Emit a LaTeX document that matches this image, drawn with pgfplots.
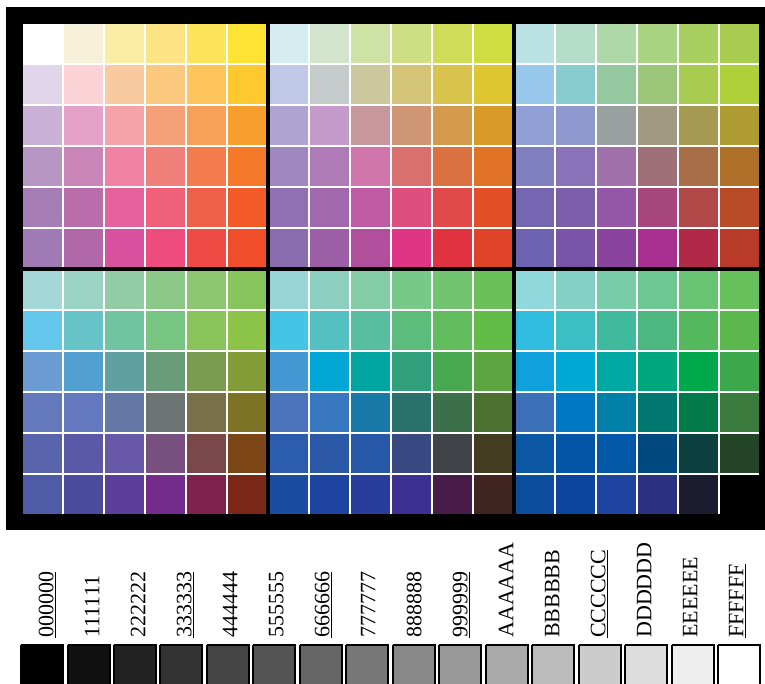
\documentclass[border=0pt]{standalone}
\usepackage{pgfplots}
\pgfplotsset{compat=1.18}
\usepackage{fontspec}
\setmainfont{Liberation Serif}
\makeatletter
\@for\cc:=FFFFFF,F6F0D8,FCEDA5,FCE485,FDE35A,FEE335,D5ECF0,D2E5CC,CFE2A6,CEDE82,CEDC58,CEDE40,BAE2E4,B5DCC8,AED8A8,A8D482,A8D060,A8CC50,%
E0D5EA,FBD2D6,F9C9A0,FBC97D,FCC45A,FEC82F,BFC8E6,C5CBCB,CBC89E,D4C477,D8C34D,DDC632,98C8EC,88CCD0,94C89E,9CC67A,B0D03A,%
C8B0D6,E5A2C8,F5A3A8,F6A079,F7A05A,F79E2D,AFA3D2,C39ACA,C8969D,CF9676,D49A4E,DA9A2A,90A0D6,9098D0,98A0A0,A09A80,A69A52,AE9C30,%
B896C4,C985B8,F282A4,F07F7A,F37C4E,F47A2A,A087C0,AE7BB7,D076AC,D8706F,DB7140,E07325,8080C0,8A72B8,A070AA,A07078,A86E48,AE7028,%
A67DB5,B96DAB,E5629F,F06078,F05F48,F25A28,9070B3,A068AD,C05AA2,DE4E7E,E04A48,E04F25,7466B0,7C5EAA,9456A6,A8467E,B04848,B84A28,%
A07AB5,B068A8,D8519F,EE4B7E,EF4B45,F04E2A,8A6BAE,9C5EA6,B24F9C,E03484,E0323F,E04428,6C62B0,7A54A6,8A449E,A83090,B02A48,B83A28,%
A4D8D8,9CD4C4,92CCA4,8CC888,8CC670,88C45C,98D4D6,8CCFBE,84CCA4,78C88A,72C470,6CC05A,90D8DC,84D0C4,78CCA8,6CC890,68C470,68C05C,%
64C6EA,66C4C8,70C4A0,78C482,88C45A,8CC448,44C4E6,54C0C2,58BEA0,5CBC7C,60BC5C,62BC48,30BDE0,3CBFC4,40BA9C,4CB880,54B85C,5CB84C,%
6C9CD4,52A0D0,60A0A0,689C78,7A9C50,849C38,4498D4,00A6D4,00A4A0,30A07C,48A850,5CA440,10A0DC,00A8D4,00A8A4,00A67C,00A84C,3CA84C,%
6478BC,6478C0,6478A8,6C7474,787048,7E7224,4C74BC,3878C0,1878A8,2A706C,3C7048,4C7030,3C70B8,0078C4,0080A8,007870,007A48,3A7A3C,%
5864AC,5C58A8,6858A8,785080,7A4848,7C4616,2C5CAC,2C58A8,2858A8,384880,404448,443C20,0C58A4,0454A8,0458A8,004880,0C4040,244428,%
4E5CA8,4C4C9E,5A3E9A,742C8C,80204C,7C2818,1C4CA0,1C44A0,283C9C,3C3090,481C48,402420,0C4C9C,0C44A0,2C3080,1C1C30,000000,%
111111,222222,333333,444444,555555,666666,777777,888888,999999,AAAAAA,BBBBBB,CCCCCC,DDDDDD,EEEEEE%
\do{\edef\tmp{\noexpand\definecolor{h\cc}{HTML}{\cc}}\tmp}
\makeatother
\begin{document}
\begin{tikzpicture}
\begin{axis}[x=0.75pt, y=0.75pt, y dir=reverse,
  xmin=0, xmax=765, ymin=0, ymax=683,
  hide axis, no markers, clip=true]
\fill[white] (axis cs:0,0) rectangle (axis cs:765,683);
\fill[black] (axis cs:6,7) rectangle (axis cs:765,530);
\addplot[matrix plot*, mesh/color input=explicit, point meta=explicit symbolic, mesh/cols=18]
 table[x expr={42.5+41*\thisrow{i}}, y expr={43.5+41*\thisrow{j}}, meta=c] {
i j c
0 0 color=hFFFFFF
1 0 color=hF6F0D8
2 0 color=hFCEDA5
3 0 color=hFCE485
4 0 color=hFDE35A
5 0 color=hFEE335
6 0 color=hD5ECF0
7 0 color=hD2E5CC
8 0 color=hCFE2A6
9 0 color=hCEDE82
10 0 color=hCEDC58
11 0 color=hCEDE40
12 0 color=hBAE2E4
13 0 color=hB5DCC8
14 0 color=hAED8A8
15 0 color=hA8D482
16 0 color=hA8D060
17 0 color=hA8CC50
0 1 color=hE0D5EA
1 1 color=hFBD2D6
2 1 color=hF9C9A0
3 1 color=hFBC97D
4 1 color=hFCC45A
5 1 color=hFEC82F
6 1 color=hBFC8E6
7 1 color=hC5CBCB
8 1 color=hCBC89E
9 1 color=hD4C477
10 1 color=hD8C34D
11 1 color=hDDC632
12 1 color=h98C8EC
13 1 color=h88CCD0
14 1 color=h94C89E
15 1 color=h9CC67A
16 1 color=hA8CC50
17 1 color=hB0D03A
0 2 color=hC8B0D6
1 2 color=hE5A2C8
2 2 color=hF5A3A8
3 2 color=hF6A079
4 2 color=hF7A05A
5 2 color=hF79E2D
6 2 color=hAFA3D2
7 2 color=hC39ACA
8 2 color=hC8969D
9 2 color=hCF9676
10 2 color=hD49A4E
11 2 color=hDA9A2A
12 2 color=h90A0D6
13 2 color=h9098D0
14 2 color=h98A0A0
15 2 color=hA09A80
16 2 color=hA69A52
17 2 color=hAE9C30
0 3 color=hB896C4
1 3 color=hC985B8
2 3 color=hF282A4
3 3 color=hF07F7A
4 3 color=hF37C4E
5 3 color=hF47A2A
6 3 color=hA087C0
7 3 color=hAE7BB7
8 3 color=hD076AC
9 3 color=hD8706F
10 3 color=hDB7140
11 3 color=hE07325
12 3 color=h8080C0
13 3 color=h8A72B8
14 3 color=hA070AA
15 3 color=hA07078
16 3 color=hA86E48
17 3 color=hAE7028
0 4 color=hA67DB5
1 4 color=hB96DAB
2 4 color=hE5629F
3 4 color=hF06078
4 4 color=hF05F48
5 4 color=hF25A28
6 4 color=h9070B3
7 4 color=hA068AD
8 4 color=hC05AA2
9 4 color=hDE4E7E
10 4 color=hE04A48
11 4 color=hE04F25
12 4 color=h7466B0
13 4 color=h7C5EAA
14 4 color=h9456A6
15 4 color=hA8467E
16 4 color=hB04848
17 4 color=hB84A28
0 5 color=hA07AB5
1 5 color=hB068A8
2 5 color=hD8519F
3 5 color=hEE4B7E
4 5 color=hEF4B45
5 5 color=hF04E2A
6 5 color=h8A6BAE
7 5 color=h9C5EA6
8 5 color=hB24F9C
9 5 color=hE03484
10 5 color=hE0323F
11 5 color=hE04428
12 5 color=h6C62B0
13 5 color=h7A54A6
14 5 color=h8A449E
15 5 color=hA83090
16 5 color=hB02A48
17 5 color=hB83A28
0 6 color=hA4D8D8
1 6 color=h9CD4C4
2 6 color=h92CCA4
3 6 color=h8CC888
4 6 color=h8CC670
5 6 color=h88C45C
6 6 color=h98D4D6
7 6 color=h8CCFBE
8 6 color=h84CCA4
9 6 color=h78C88A
10 6 color=h72C470
11 6 color=h6CC05A
12 6 color=h90D8DC
13 6 color=h84D0C4
14 6 color=h78CCA8
15 6 color=h6CC890
16 6 color=h68C470
17 6 color=h68C05C
0 7 color=h64C6EA
1 7 color=h66C4C8
2 7 color=h70C4A0
3 7 color=h78C482
4 7 color=h88C45A
5 7 color=h8CC448
6 7 color=h44C4E6
7 7 color=h54C0C2
8 7 color=h58BEA0
9 7 color=h5CBC7C
10 7 color=h60BC5C
11 7 color=h62BC48
12 7 color=h30BDE0
13 7 color=h3CBFC4
14 7 color=h40BA9C
15 7 color=h4CB880
16 7 color=h54B85C
17 7 color=h5CB84C
0 8 color=h6C9CD4
1 8 color=h52A0D0
2 8 color=h60A0A0
3 8 color=h689C78
4 8 color=h7A9C50
5 8 color=h849C38
6 8 color=h4498D4
7 8 color=h00A6D4
8 8 color=h00A4A0
9 8 color=h30A07C
10 8 color=h48A850
11 8 color=h5CA440
12 8 color=h10A0DC
13 8 color=h00A8D4
14 8 color=h00A8A4
15 8 color=h00A67C
16 8 color=h00A84C
17 8 color=h3CA84C
0 9 color=h6478BC
1 9 color=h6478C0
2 9 color=h6478A8
3 9 color=h6C7474
4 9 color=h787048
5 9 color=h7E7224
6 9 color=h4C74BC
7 9 color=h3878C0
8 9 color=h1878A8
9 9 color=h2A706C
10 9 color=h3C7048
11 9 color=h4C7030
12 9 color=h3C70B8
13 9 color=h0078C4
14 9 color=h0080A8
15 9 color=h007870
16 9 color=h007A48
17 9 color=h3A7A3C
0 10 color=h5864AC
1 10 color=h5C58A8
2 10 color=h6858A8
3 10 color=h785080
4 10 color=h7A4848
5 10 color=h7C4616
6 10 color=h2C5CAC
7 10 color=h2C58A8
8 10 color=h2858A8
9 10 color=h384880
10 10 color=h404448
11 10 color=h443C20
12 10 color=h0C58A4
13 10 color=h0454A8
14 10 color=h0458A8
15 10 color=h004880
16 10 color=h0C4040
17 10 color=h244428
0 11 color=h4E5CA8
1 11 color=h4C4C9E
2 11 color=h5A3E9A
3 11 color=h742C8C
4 11 color=h80204C
5 11 color=h7C2818
6 11 color=h1C4CA0
7 11 color=h1C44A0
8 11 color=h283C9C
9 11 color=h3C3090
10 11 color=h481C48
11 11 color=h402420
12 11 color=h0C4C9C
13 11 color=h0C44A0
14 11 color=h1C44A0
15 11 color=h2C3080
16 11 color=h1C1C30
17 11 color=h000000
};
% white cell separators
\pgfplotsinvokeforeach{1,...,17}{\draw[white, line width=1.5pt] (axis cs:{22+41*#1},23) -- (axis cs:{22+41*#1},515);}
\pgfplotsinvokeforeach{1,...,11}{\draw[white, line width=1.5pt] (axis cs:22,{23+41*#1}) -- (axis cs:760,{23+41*#1});}
% black block separators and outer edge
\draw[black, line width=2.6pt] (axis cs:268,21) -- (axis cs:268,517);
\draw[black, line width=2.6pt] (axis cs:514,21) -- (axis cs:514,517);
\draw[black, line width=2.6pt] (axis cs:20,269) -- (axis cs:762,269);
\draw[black, line width=2.2pt] (axis cs:22,23) rectangle (axis cs:760,515);
% grey swatches
\addplot[fill=h000000, draw=black, line width=1.5pt] coordinates {(21,645) (63,645) (63,700) (21,700) (21,645)};
\addplot[fill=h111111, draw=black, line width=1.5pt] coordinates {(67.5,645) (109.5,645) (109.5,700) (67.5,700) (67.5,645)};
\addplot[fill=h222222, draw=black, line width=1.5pt] coordinates {(113.9,645) (155.9,645) (155.9,700) (113.9,700) (113.9,645)};
\addplot[fill=h333333, draw=black, line width=1.5pt] coordinates {(160.4,645) (202.4,645) (202.4,700) (160.4,700) (160.4,645)};
\addplot[fill=h444444, draw=black, line width=1.5pt] coordinates {(206.9,645) (248.9,645) (248.9,700) (206.9,700) (206.9,645)};
\addplot[fill=h555555, draw=black, line width=1.5pt] coordinates {(253.4,645) (295.4,645) (295.4,700) (253.4,700) (253.4,645)};
\addplot[fill=h666666, draw=black, line width=1.5pt] coordinates {(299.8,645) (341.8,645) (341.8,700) (299.8,700) (299.8,645)};
\addplot[fill=h777777, draw=black, line width=1.5pt] coordinates {(346.3,645) (388.3,645) (388.3,700) (346.3,700) (346.3,645)};
\addplot[fill=h888888, draw=black, line width=1.5pt] coordinates {(392.8,645) (434.8,645) (434.8,700) (392.8,700) (392.8,645)};
\addplot[fill=h999999, draw=black, line width=1.5pt] coordinates {(439.2,645) (481.2,645) (481.2,700) (439.2,700) (439.2,645)};
\addplot[fill=hAAAAAA, draw=black, line width=1.5pt] coordinates {(485.7,645) (527.7,645) (527.7,700) (485.7,700) (485.7,645)};
\addplot[fill=hBBBBBB, draw=black, line width=1.5pt] coordinates {(532.2,645) (574.2,645) (574.2,700) (532.2,700) (532.2,645)};
\addplot[fill=hCCCCCC, draw=black, line width=1.5pt] coordinates {(578.6,645) (620.6,645) (620.6,700) (578.6,700) (578.6,645)};
\addplot[fill=hDDDDDD, draw=black, line width=1.5pt] coordinates {(625.1,645) (667.1,645) (667.1,700) (625.1,700) (625.1,645)};
\addplot[fill=hEEEEEE, draw=black, line width=1.5pt] coordinates {(671.6,645) (713.6,645) (713.6,700) (671.6,700) (671.6,645)};
\addplot[fill=hFFFFFF, draw=black, line width=1.5pt] coordinates {(718.1,645) (760.1,645) (760.1,700) (718.1,700) (718.1,645)};
% labels
\tikzset{lab/.style={rotate=90, anchor=base west, inner sep=0pt, font=\fontsize{16.5}{18}\selectfont}}
\node[lab] at (axis cs:53.3,638) {\underline{000000}};
\node[lab] at (axis cs:99.3,638) {111111};
\node[lab] at (axis cs:145.3,638) {222222};
\node[lab] at (axis cs:191.3,638) {\underline{333333}};
\node[lab] at (axis cs:237.3,638) {444444};
\node[lab] at (axis cs:283.3,638) {555555};
\node[lab] at (axis cs:329.3,638) {\underline{666666}};
\node[lab] at (axis cs:375.3,638) {777777};
\node[lab] at (axis cs:421.3,638) {888888};
\node[lab] at (axis cs:467.3,638) {\underline{999999}};
\node[lab] at (axis cs:513.3,638) {AAAAAA};
\node[lab] at (axis cs:559.3,638) {BBBBBB};
\node[lab] at (axis cs:605.3,638) {\underline{CCCCCC}};
\node[lab] at (axis cs:651.3,638) {DDDDDD};
\node[lab] at (axis cs:697.3,638) {EEEEEE};
\node[lab] at (axis cs:743.3,638) {\underline{FFFFFF}};
\end{axis}
\end{tikzpicture}
\end{document}
